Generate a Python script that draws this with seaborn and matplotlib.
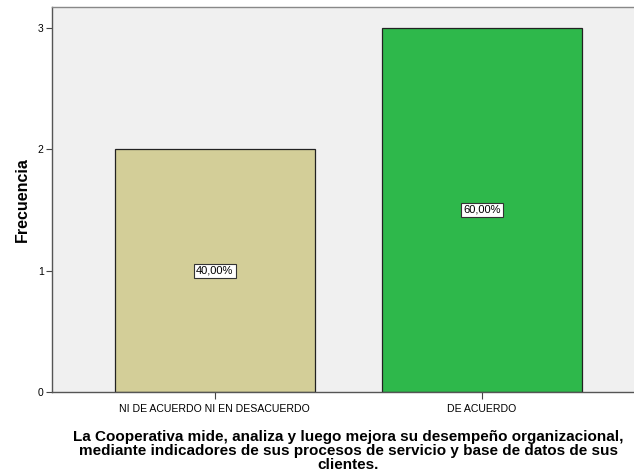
import matplotlib
matplotlib.use("Agg")
import matplotlib.pyplot as plt
import seaborn as sns
import pandas as pd

# Response categories and their counts
categorias = ["NI DE ACUERDO NI EN DESACUERDO", "DE ACUERDO"]
frecuencias = [2, 3]
porcentajes = ["40,00%", "60,00%"]
colores = ["#D3CE98", "#2EB84B"]

sns.set_style("white")
plt.rcParams["font.family"] = ["Liberation Sans", "DejaVu Sans"]
plt.rcParams["text.color"] = "black"
plt.rcParams["axes.labelcolor"] = "black"
plt.rcParams["xtick.color"] = "#444444"
plt.rcParams["ytick.color"] = "#444444"
plt.rcParams["xtick.labelcolor"] = "black"
plt.rcParams["ytick.labelcolor"] = "black"

df = pd.DataFrame({"categoria": categorias, "frecuencia": frecuencias})

fig = plt.figure(figsize=(6.34, 4.75), dpi=100)
ax = fig.add_axes([0.082, 0.1747, 0.935, 0.81])
ax.set_facecolor("#F0F0F0")

sns.barplot(data=df, x="categoria", y="frecuencia", hue="categoria",
            palette=colores, saturation=1, width=0.75, edgecolor="#222222",
            linewidth=0.9, legend=False, ax=ax)

# Percentage labels centred in each bar
for i, (f, p) in enumerate(zip(frecuencias, porcentajes)):
    ax.text(i, f / 2, p, ha="center", va="center", fontsize=8,
            bbox=dict(boxstyle="square,pad=0.18", facecolor="white",
                      edgecolor="#333333", linewidth=0.8))

ax.set_xlim(-0.61, 1.61)
ax.set_ylim(0, 3.167)
ax.set_yticks([0, 1, 2, 3])
ax.tick_params(axis="both", direction="out", length=4, width=0.8,
               bottom=True, left=True, pad=2)
ax.tick_params(axis="x", length=5, labelsize=7.6, pad=3.5)
ax.tick_params(axis="y", labelsize=7.5)

for side in ["left", "bottom", "top"]:
    ax.spines[side].set_color("#555555")
    ax.spines[side].set_linewidth(1.0)
ax.spines["top"].set_color("#888888")
ax.spines["right"].set_visible(False)

ax.set_ylabel("Frecuencia", fontsize=11.5, fontweight="bold", labelpad=6)
ax.set_xlabel("La Cooperativa mide, analiza y luego mejora su desempeño organizacional,\n"
              "mediante indicadores de sus procesos de servicio y base de datos de sus\n"
              "clientes.", fontsize=11, fontweight="bold", labelpad=12,
              linespacing=1.0)

fig.savefig("out.png", dpi=100)
